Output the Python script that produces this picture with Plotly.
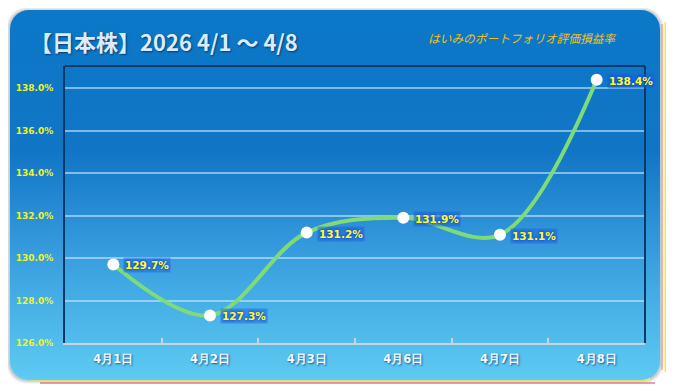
import base64
import plotly.graph_objects as go

# ---- data ----
categories = ["4月1日", "4月2日", "4月3日", "4月6日", "4月7日", "4月8日"]
values = [129.7, 127.3, 131.2, 131.9, 131.1, 138.4]
y_ticks = [126, 128, 130, 132, 134, 136, 138]
title_text = "【日本株】2026 4/1 〜 4/8"
subtitle_text = "はいみのポートフォリオ評価損益率"

W, H = 674, 392
OFF = 8  # page body margin
L, R, T, B = 65 - OFF, 645 - OFF, 66 - OFF, 343 - OFF  # plot area in figure pixels
pw, ph = R - L, B - T

# background card (svg gradient, rounded), coordinates in figure pixels
svg = f'''<svg xmlns="http://www.w3.org/2000/svg" width="{W}" height="{H}" viewBox="0 0 {W} {H}" preserveAspectRatio="none">
<defs>
<linearGradient id="g" x1="0" y1="0" x2="0" y2="1">
<stop offset="0" stop-color="#0b78c8"/>
<stop offset="0.38" stop-color="#1175c5"/>
<stop offset="0.68" stop-color="#3aa0e0"/>
<stop offset="1" stop-color="#5dcbf2"/>
</linearGradient>
<filter id="s" x="-5%" y="-5%" width="110%" height="110%"><feGaussianBlur stdDeviation="1.5"/></filter>
</defs>
<rect x="0" y="1" width="654" height="373" rx="19" ry="19" fill="#b8c4cc" filter="url(#s)"/>
<line x1="658" y1="14" x2="658" y2="364" stroke="#f0f030" stroke-width="3"/>
<line x1="661" y1="18" x2="661" y2="366" stroke="#e04040" stroke-width="1"/>
<line x1="654" y1="16" x2="654" y2="362" stroke="#f08080" stroke-width="1"/>
<line x1="22" y1="371" x2="642" y2="371" stroke="#f0f030" stroke-width="3"/>
<line x1="32" y1="375" x2="647" y2="375" stroke="#e04040" stroke-width="1"/>
<rect x="2" y="2" width="650" height="370" rx="19" ry="19" fill="url(#g)"/>
</svg>'''
src = "data:image/svg+xml;base64," + base64.b64encode(svg.encode("utf-8")).decode()

fig = go.Figure()
fig.add_trace(go.Scatter(
    x=categories, y=values, mode="lines+markers",
    line=dict(color="#7ddc78", width=4, shape="spline", smoothing=1.0),
    marker=dict(color="white", size=12, line=dict(width=0)),
    hoverinfo="skip", showlegend=False,
))

for c, v in zip(categories, values):
    fig.add_annotation(
        x=c, y=v, text=f"{v:.1f}%", showarrow=False,
        xanchor="left", yanchor="middle", xshift=10, yshift=-1,
        font=dict(family="DejaVu Sans", size=10.5, color="#ffff1e", weight="bold",
                  shadow="0 0 3px #1548d8, 0 0 3px #1548d8"),
        bgcolor="rgba(30,95,220,0.45)", borderpad=1,
    )

fig.add_annotation(
    xref="paper", yref="paper", x=(28 - OFF - L) / pw, y=(B - (41 - OFF)) / ph,
    xanchor="left", yanchor="middle", showarrow=False, text=f"<b>{title_text}</b>",
    font=dict(family="Noto Sans CJK JP", size=22, color="#dcecfc",
              shadow="1px 1px 2px #063a6e"),
)
fig.add_annotation(
    xref="paper", yref="paper", x=(426 - OFF - L) / pw, y=(B - (38 - OFF)) / ph,
    xanchor="left", yanchor="middle", showarrow=False, text=f"<i>{subtitle_text}</i>",
    font=dict(family="Noto Sans CJK JP", size=11.7, color="#f2c01a"),
)

fig.add_layout_image(dict(
    source=src, xref="paper", yref="paper",
    x=-L / pw, y=B / ph, sizex=W / pw, sizey=H / ph,
    xanchor="left", yanchor="top", sizing="stretch", layer="below",
))

# top & right frame lines
fig.add_shape(type="line", xref="paper", yref="paper", x0=0, x1=1, y0=1, y1=1,
              line=dict(color="#0c3a68", width=2))
fig.add_shape(type="line", xref="paper", yref="paper", x0=1, x1=1, y0=0, y1=1,
              line=dict(color="#0c3a68", width=2))

fig.update_layout(
    width=W, height=H,
    margin=dict(l=L, r=W - R, t=T, b=H - B, autoexpand=False),
    paper_bgcolor="white", plot_bgcolor="rgba(0,0,0,0)",
    xaxis=dict(
        type="category", tickson="boundaries", ticks="inside", ticklen=5,
        tickcolor="#c8d4dc", tickwidth=2, showline=True, linecolor="#c8d4dc",
        linewidth=2, showgrid=False, range=[-0.5, len(categories) - 0.5],
        tickfont=dict(family="DejaVu Sans", size=11.5, color="#f4f8ff", weight="bold",
                      shadow="1px 1px 2px #1a5a90"),
        ticklabelstandoff=4, automargin=False,
    ),
    yaxis=dict(
        range=[126, 139.05], tickvals=y_ticks,
        ticktext=[f"{t:.1f}%" for t in y_ticks],
        showgrid=True, gridcolor="rgba(200,232,255,0.6)", gridwidth=1.5,
        showline=True, linecolor="#0a3768", linewidth=2, zeroline=False,
        tickfont=dict(family="DejaVu Sans", size=9, color="#f0f22a", weight="bold"),
        ticklabelstandoff=8, automargin=False,
    ),
)

fig.write_html("out.html")
